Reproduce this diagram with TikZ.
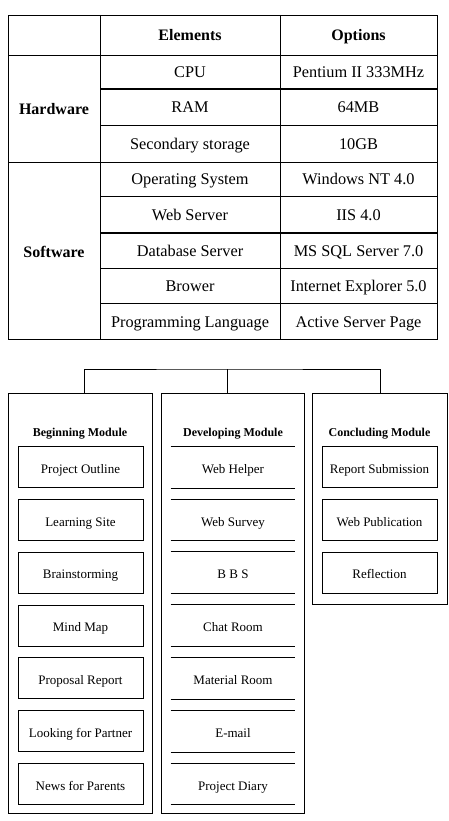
\documentclass[tikz,border=0pt]{standalone}
\usepackage{fontspec}
\setmainfont{Liberation Serif}
\usetikzlibrary{positioning}

\begin{document}
\begin{tikzpicture}[
  x=1pt, y=-1pt, line width=0.8pt,
  node distance=11pt,
  cell/.style={font=\fontsize{16.3}{19}\selectfont, inner sep=0pt,
    text height=14pt, text depth=2pt},
  head/.style={cell, font=\fontsize{16}{19}\selectfont\bfseries},
  frame/.style={draw, anchor=north west, minimum height=#1, inner sep=0pt},
  title/.style={font=\fontsize{12}{14}\selectfont\bfseries, inner sep=0pt,
    text height=8pt, text depth=0pt},
  item/.style={draw, font=\fontsize{13}{15}\selectfont, minimum width=125pt,
    minimum height=41pt, inner sep=0pt, text height=14pt, text depth=1.5pt},
  lined/.style={item, draw=none, minimum width=124pt}
]
\useasboundingbox (0,0) rectangle (449,821);

% table grid
\draw (8,15) rectangle (437,339);
\draw (100,15) -- (100,339) (280,15) -- (280,339);
\draw (8,55) -- (437,55) (8,162) -- (437,162);
\draw (100,125) -- (437,125) (100,196) -- (437,196)
      (100,268) -- (437,268) (100,303) -- (437,303);
\draw[line width=1.4pt] (100,89) -- (437,89) (100,233) -- (437,233);

% table text
\node[head] (el) at (190,35) {Elements};
\node[head] (op) at (358.5,35) {Options};
\node[head] (hw) at (54,108.5) {Hardware};
\node[head] (sw) at (54,251) {Software};
\node[cell] (cpu) at (190,72) {CPU};
\node[cell] (cpuo) at (358.5,72) {Pentium II 333MHz};
\node[cell] (ram) at (190,107) {RAM};
\node[cell] (ramo) at (358.5,107) {64MB};
\node[cell] (sto) at (190,143.5) {Secondary storage};
\node[cell] (stoo) at (358.5,143.5) {10GB};
\node[cell] (os) at (190,179) {Operating System};
\node[cell] (oso) at (358.5,179) {Windows NT 4.0};
\node[cell] (web) at (190,214.5) {Web Server};
\node[cell] (webo) at (358.5,214.5) {IIS 4.0};
\node[cell] (db) at (190,250.5) {Database Server};
\node[cell] (dbo) at (358.5,250.5) {MS SQL Server 7.0};
\node[cell] (br) at (190,285.5) {Brower};
\node[cell] (bro) at (358.5,285.5) {Internet Explorer 5.0};
\node[cell] (pl) at (190,321) {Programming Language};
\node[cell] (plo) at (358.5,321) {Active Server Page};

% module frames
\node[frame=420pt, minimum width=144pt] (beg) at (8,393) {};
\node[frame=420pt, minimum width=143pt] (dev) at (161,393) {};
\node[frame=211pt, minimum width=135pt] (con) at (312,393) {};
\coordinate (root) at (227,369);
\draw ([xshift=4pt]beg.north) |- (root) -| (con.north);
\draw (root) -- (root |- dev.north);

\node[title] (begt) at (80,432) {Beginning Module};
\node[title] (devt) at (233,432) {Developing Module};
\node[title] (cont) at (379.5,432) {Concluding Module};

% beginning module
\node[item] (b1) at (80.5,467) {Project Outline};
\node[item, below=of b1] (b2) {Learning Site};
\node[item, below=of b2] (b3) {Brainstorming};
\node[item, below=of b3] (b4) {Mind Map};
\node[item, below=of b4] (b5) {Proposal Report};
\node[item, below=of b5] (b6) {Looking for Partner};
\node[item, below=of b6] (b7) {News for Parents};

% developing module
\node[lined] (d1) at (233,467) {Web Helper};
\node[lined, below=of d1] (d2) {Web Survey};
\node[lined, below=of d2] (d3) {B B S};
\node[lined, below=of d3] (d4) {Chat Room};
\node[lined, below=of d4] (d5) {Material Room};
\node[lined, below=of d5] (d6) {E-mail};
\node[lined, below=of d6] (d7) {Project Diary};
\foreach \n in {d1,d2,d3,d4,d5,d6,d7}
  \draw (\n.north west) -- (\n.north east) (\n.south west) -- (\n.south east);

% concluding module
\node[item, minimum width=115pt] (c1) at (379.5,467) {Report Submission};
\node[item, minimum width=115pt, below=of c1] (c2) {Web Publication};
\node[item, minimum width=115pt, below=of c2] (c3) {Reflection};
\end{tikzpicture}
\end{document}
